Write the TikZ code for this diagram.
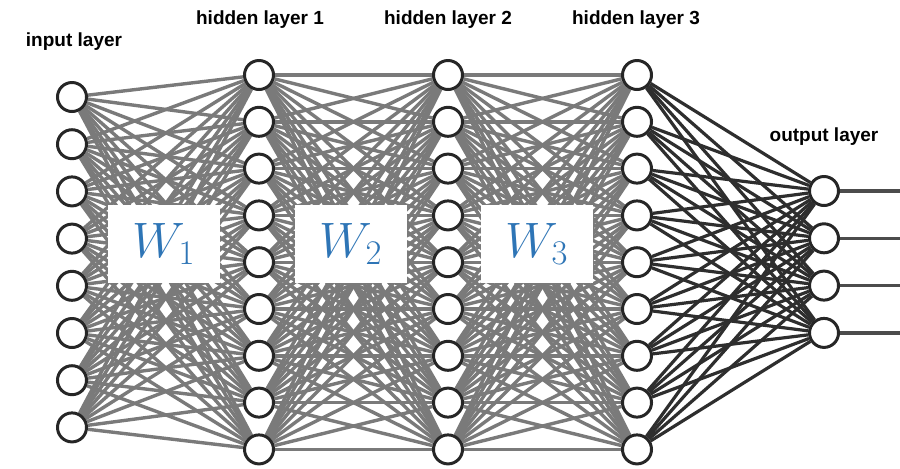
\documentclass[tikz,border=0pt]{standalone}
\usepackage{fontspec}
\setsansfont{Liberation Sans}
\usetikzlibrary{backgrounds}
\definecolor{wblue}{RGB}{46,117,182}
\tikzset{
  neuron/.style={
    circle,
    draw=black!85,
    fill=white,
    line width=1.5pt,
    minimum size=14.5pt,
    inner sep=0pt
  },
  synapse/.style={
    draw=black!52,
    line width=1.7pt
  },
  outsynapse/.style={
    synapse,
    draw=black!82,
    line width=1.6pt
  },
  layerlabel/.style={
    font=\sffamily\bfseries\fontsize{9.5}{10}\selectfont
  },
  wbox/.style={
    rectangle,
    fill=white,
    minimum width=56pt,
    minimum height=39pt,
    inner sep=0pt,
    text=wblue,
    font=\fontsize{23}{23}\selectfont
  }
}

\begin{document}
\begin{tikzpicture}[x=0.5pt,y=-0.5pt]
  \useasboundingbox (0,0) rectangle (900,468);

  % neurons
  \foreach \i in {1,...,8}
    \node[neuron] (I-\i) at (72,{97+47.2*(\i-1)}) {};
  \foreach \i in {1,...,9} {
    \node[neuron] (H1-\i) at (259,{75+46.8*(\i-1)}) {};
    \node[neuron] (H2-\i) at (448,{75+46.8*(\i-1)}) {};
    \node[neuron] (H3-\i) at (637,{75+46.8*(\i-1)}) {};
  }
  \foreach \i in {1,...,4}
    \node[neuron] (O-\i) at (824,{191+47.3*(\i-1)}) {};

  % labels
  \node[layerlabel] (lin) at (74,42) {input layer};
  \node[layerlabel] (lh1) at (260,20) {hidden layer 1};
  \node[layerlabel] (lh2) at (448,20) {hidden layer 2};
  \node[layerlabel] (lh3) at (636,20) {hidden layer 3};
  \node[layerlabel] (lout) at (824,137) {output layer};

  % connections
  \begin{scope}[on background layer]
    \foreach \i in {1,...,8}
      \foreach \j in {1,...,9}
        \draw[synapse] (I-\i) -- (H1-\j);
    \foreach \i in {1,...,9}
      \foreach \j in {1,...,9} {
        \draw[synapse] (H1-\i) -- (H2-\j);
        \draw[synapse] (H2-\i) -- (H3-\j);
      }
    \foreach \i in {1,...,9}
      \foreach \j in {1,...,4}
        \draw[outsynapse] (H3-\i) -- (O-\j);
  \end{scope}

  % outputs
  \foreach \i in {1,...,4} {
    \coordinate (out-\i) at (900,{191+47.3*(\i-1)});
    \draw[outsynapse, black!70] (O-\i) -- (out-\i);
  }

  % weight matrices
  \node[wbox] (W1) at (164,244) {$W_1$};
  \node[wbox] (W2) at (351,244) {$W_2$};
  \node[wbox] (W3) at (537,244) {$W_3$};
\end{tikzpicture}
\end{document}
